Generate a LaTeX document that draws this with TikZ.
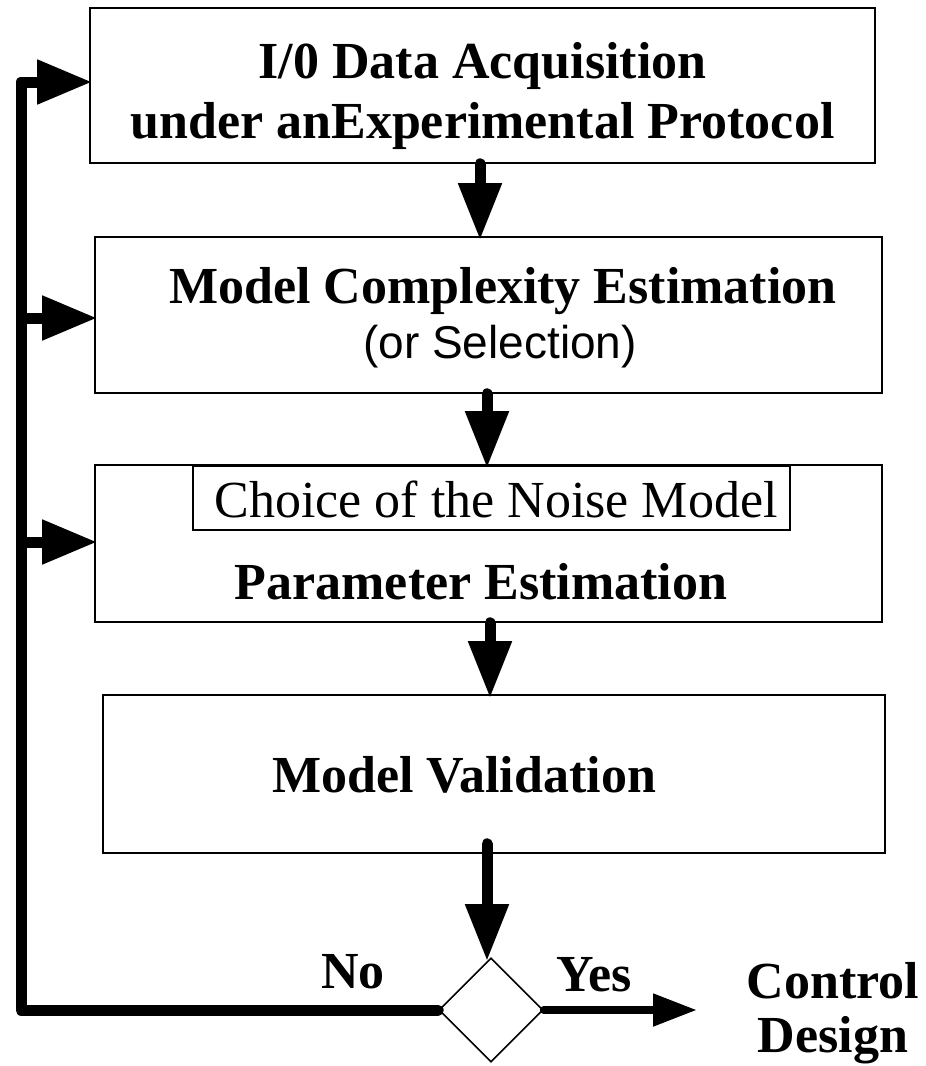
\documentclass[tikz,border=0pt]{standalone}
\usepackage{fontspec}
\setmainfont{Liberation Serif}
\newfontfamily\sansfam{Liberation Sans}
\usetikzlibrary{arrows.meta,shapes.geometric}
\begin{document}
\begin{tikzpicture}[x=1pt,y=-1pt,
  box/.style={draw,line width=1.6pt,inner sep=0pt},
  bigbold/.style={font=\fontsize{52}{60}\selectfont\bfseries,align=center,inner sep=0pt},
  plain/.style={font=\fontsize{52}{60}\selectfont,align=center,inner sep=0pt},
  flow/.style={line width=11pt,line cap=round,shorten >=-4pt,-{Triangle[length=57pt,width=41pt]}},
  feed/.style={line width=11pt,shorten >=-3pt,-{Triangle[length=55pt,width=42pt]}},
  yesflow/.style={line width=8pt,line cap=round,-{Triangle[length=44pt,width=31pt]}},
  bus/.style={line width=11pt,line cap=round,line join=round}
]
\useasboundingbox (0,0) rectangle (926,1066);

% process boxes
\node[box,minimum width=785pt,minimum height=155pt] (b1) at (482.5,85.5) {};
\node[bigbold] (t1) at (482.5,96) {I/0 Data Acquisition\\under anExperimental Protocol};

\node[box,minimum width=787pt,minimum height=156pt] (b2) at (488.5,315) {};
\node[bigbold] (t2) at (503,291) {Model Complexity Estimation};
\node[font=\fontsize{46}{52}\sansfam,inner sep=0pt] (t2b) at (500,347) {(or Selection)};

\node[box,minimum width=787pt,minimum height=157pt] (b3) at (488.5,543.5) {};
\node[box,minimum width=597pt,minimum height=64pt] (noise) at (491.5,498) {};
\node[plain] (t3a) at (496,499) {Choice of the Noise Model};
\node[bigbold] (t3) at (481,582) {Parameter Estimation};

\node[box,minimum width=782pt,minimum height=158pt] (b4) at (494,774) {};
\node[bigbold] (t4) at (464,775) {Model Validation};

% decision
\node[draw,line width=1.6pt,shape=diamond,minimum width=104pt,minimum height=104pt,inner sep=0pt] (dec) at (491,1010) {};

% main flow
\draw[flow] ([xshift=-2.5pt]b1.south) -- ([xshift=-2.5pt]b1.south |- b2.north);
\draw[flow] ([xshift=-1.5pt]b2.south) -- ([xshift=-1.5pt]b2.south |- b3.north);
\draw[flow] ([xshift=1.5pt]b3.south) -- ([xshift=1.5pt]b3.south |- b4.north);
\draw[flow] ([xshift=-4pt,yshift=10pt]dec.north |- b4.south) -- ([xshift=-4pt]dec.north);

% feedback bus
\coordinate (busbot) at (21,1010);
\coordinate (bustop) at (21,82);
\draw[bus] (dec.west) -- (busbot) -- (bustop) -- ([xshift=-40pt]bustop -| b1.west);
\draw[feed] (bustop) -- (bustop -| b1.west);
\draw[feed] ([yshift=-3pt]bustop |- b2.west) -- ([yshift=-3pt]b2.west);
\draw[feed] ([yshift=1.5pt]bustop |- b3.west) -- ([yshift=1.5pt]b3.west);

% exit
\coordinate (out) at (697,1010);
\draw[yesflow] (dec.east) -- (out);

% labels
\node[bigbold] (no) at (353,972) {No};
\node[bigbold] (yes) at (594,975) {Yes};
\node[font=\fontsize{52}{54}\selectfont\bfseries,align=center,inner sep=0pt] (ctrl) at (833,1013) {Control\\Design};
\end{tikzpicture}
\end{document}
